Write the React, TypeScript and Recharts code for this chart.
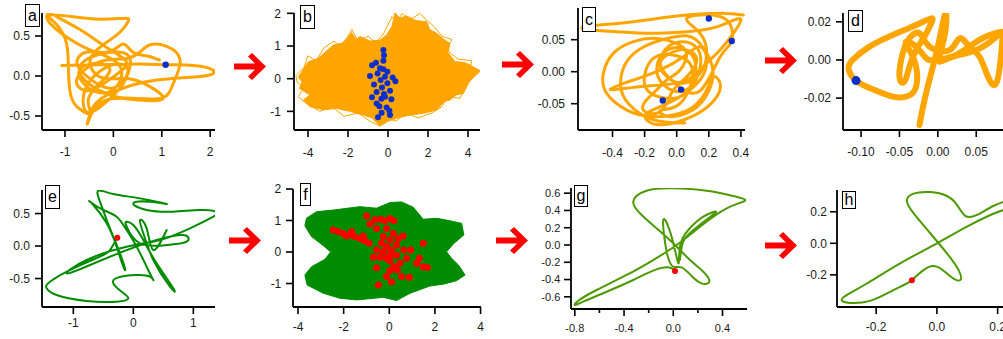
import React from 'react';
import { ScatterChart, Scatter, XAxis, YAxis } from 'recharts';

const ORANGE = '#FFA500';
const BLUE = '#0B2FC8';
const GREEN = '#008C00';
const OLIVE = '#4C9A00';
const RED = '#FF0000';
const FONT = '"Liberation Sans", Arial, sans-serif';

type Pair = [number, number];
const toPts = (a: Pair[]) => a.map(([x, y]) => ({ x, y }));

// ---- panel a: orange trajectory + blue point ----
const trajA: Pair[] = [
  [-1.07, 0.13], [-0.28, 0.14], [0.55, 0.15], [1.08, 0.14], [1.66, 0.13], [2.07, 0.07], [1.97, 0.01],
  [1.52, -0.02], [0.9, -0.05], [0.41, -0.11], [-0.07, -0.22], [-0.41, -0.38], [-0.54, -0.6], [-0.45, -0.47],
  [-0.14, -0.3], [0.48, -0.28], [1.03, -0.27], [1.24, -0.09], [1.38, 0.2], [1.1, 0.37], [0.76, 0.39],
  [0.55, 0.3], [0.28, 0.22], [-0.14, 0.2], [-0.59, 0.08], [-0.76, -0.09], [-0.48, -0.18], [0.0, -0.01],
  [0.28, 0.16], [-0.07, 0.33], [-0.69, 0.58], [-1.17, 0.74], [-1.34, 0.78], [-1.31, 0.66], [-0.76, 0.41],
  [-0.28, 0.28], [0.14, 0.12], [0.07, -0.13], [-0.28, -0.21], [-0.62, -0.09], [-0.69, 0.08], [-0.34, 0.16],
  [-0.07, 0.08], [-0.28, -0.09], [-0.52, -0.3], [-0.48, -0.47], [-0.76, -0.38], [-0.9, -0.18], [-0.93, 0.12],
  [-0.97, 0.41], [-1.17, 0.64], [-1.32, 0.76], [-0.83, 0.74], [-0.28, 0.71], [0.21, 0.72], [0.31, 0.69],
  [0.14, 0.55], [-0.21, 0.39], [-0.48, 0.2], [-0.28, -0.01], [0.21, -0.03], [0.62, -0.09], [1.03, -0.28],
  [0.5, -0.3], [0.0, -0.25], [-0.5, -0.1], [-0.7, 0.1], [-0.4, 0.25], [0.1, 0.3], [0.35, 0.2], [0.2, -0.1],
  [-0.2, -0.35], [-0.55, -0.45], [-0.6, -0.2], [-0.3, 0.05], [0.1, 0.15], [0.3, 0.05], [0.0, -0.15],
  [-0.45, -0.05], [-0.75, 0.15], [-0.55, 0.3], [-0.1, 0.3], [0.2, 0.4], [0.4, 0.3], [0.7, 0.25], [0.95, 0.2],
];
const dotA: Pair[] = [[1.08, 0.14]];

// ---- panel b: dense orange cloud + blue cluster ----
const blobB: Pair[] = [
  [-4.48, 0.06], [-3.98, 0.52], [-3.5, 0.62], [-2.73, 1.03], [-2.2, 1.1], [-1.82, 1.41], [-1.6, 1.2],
  [-1.4, 1.29], [-0.9, 1.15], [-0.4, 1.18], [-0.07, 1.34], [0.2, 1.6], [0.35, 2.02], [0.6, 1.85],
  [0.93, 1.92], [1.4, 1.78], [1.93, 1.74], [2.1, 1.5], [2.43, 1.39], [2.8, 1.2], [3.1, 1.08], [3.0, 0.8],
  [3.35, 0.52], [3.8, 0.5], [4.1, 0.42], [4.6, 0.24], [4.1, -0.04], [3.77, -0.45], [3.4, -0.5],
  [3.1, -0.65], [2.8, -0.7], [2.43, -0.96], [1.77, -1.06], [1.2, -1.1], [0.6, -1.18], [0.0, -1.3],
  [-0.4, -1.45], [-0.8, -1.2], [-1.23, -1.11], [-1.9, -1.0], [-2.57, -0.91], [-3.2, -0.95], [-3.9, -0.86],
  [-4.23, -0.65], [-3.9, -0.5], [-4.43, -0.3], [-4.3, -0.1],
];
const fringeB: Pair[] = [
  [-4.6, 0.1], [-4.2, 0.35], [-4.0, 0.7], [-3.6, 0.55], [-3.2, 0.95], [-2.7, 1.15], [-2.4, 1.0],
  [-2.0, 1.3], [-1.8, 1.5], [-1.5, 1.15], [-1.0, 1.3], [-0.6, 1.1], [-0.2, 1.4], [0.2, 1.9], [0.45, 1.7],
  [0.7, 2.0], [1.1, 1.8], [1.6, 2.0], [1.9, 1.8], [2.3, 1.6], [2.7, 1.3], [3.2, 1.2], [2.9, 0.9], [3.5, 0.6],
  [4.2, 0.55], [4.1, 0.35], [4.65, 0.25], [4.3, 0.05], [3.9, -0.2], [3.6, -0.6], [3.0, -0.55], [2.7, -0.85],
  [2.2, -1.05], [1.5, -1.2], [0.9, -1.05], [0.4, -1.3], [-0.1, -1.2], [-0.4, -1.45], [-0.9, -1.3],
  [-1.5, -1.05], [-2.2, -1.15], [-2.8, -0.85], [-3.4, -1.0], [-4.1, -0.75], [-4.5, -0.55], [-4.2, -0.3],
  [-4.55, -0.1],
];
const dotsB: Pair[] = [
  [-0.23, 0.88], [-0.2, 0.72], [-0.23, 0.55], [-0.6, 0.49], [-0.8, 0.41], [-0.23, 0.29], [-0.03, 0.21],
  [-0.52, 0.16], [-0.9, 0.08], [0.23, 0.04], [0.37, -0.08], [-0.37, -0.04], [-0.7, -0.18], [-0.3, -0.27],
  [-0.03, -0.14], [-0.57, -0.41], [-0.2, -0.47], [0.1, -0.37], [-0.8, -0.57], [-0.33, -0.61], [0.17, -0.63],
  [-0.43, -0.84], [-0.07, -0.88], [0.07, -0.98], [-0.32, -1.04], [0.1, -1.11], [-0.5, -1.18],
  [-0.15, 0.06], [-0.4, 0.32], [-0.15, -0.55], [-0.57, -0.76],
];

// ---- panel c ----
const trajC: Pair[] = [
  [0.415, 0.0885], [0.31, 0.091], [0.145, 0.09], [-0.062, 0.085], [-0.27, 0.078], [-0.478, 0.073],
  [-0.58, 0.07], [-0.56, 0.066], [-0.374, 0.0625], [-0.166, 0.06], [0.062, 0.0625], [0.25, 0.07],
  [0.395, 0.083], [0.353, 0.06], [0.27, 0.034], [0.166, 0.0078], [0.062, -0.013], [-0.104, -0.021],
  [-0.27, -0.0245], [-0.415, -0.0276], [-0.27, -0.013], [-0.104, 0.0026], [0.0415, 0.0234], [0.145, 0.039],
  [0.187, 0.018], [0.145, -0.013], [0.021, -0.039], [-0.104, -0.0547], [-0.187, -0.065], [-0.187, -0.0755],
  [-0.104, -0.083], [0.0415, -0.0755], [0.166, -0.06], [0.25, -0.039], [0.27, -0.018], [0.228, -0.0078],
  [0.187, -0.0286], [0.104, -0.0547], [-0.021, -0.0677], [-0.166, -0.07], [-0.31, -0.06], [-0.436, -0.034],
  [-0.457, -0.0026], [-0.395, 0.0286], [-0.27, 0.047], [-0.125, 0.052], [0.0, 0.044], [0.062, 0.0286],
  [0.021, 0.0026], [-0.062, -0.013], [-0.125, -0.0286], [-0.187, -0.044], [-0.208, -0.06], [-0.125, -0.065],
  [-0.062, -0.0495], [-0.021, -0.0286], [0.062, -0.0078], [0.125, 0.018], [0.062, 0.034], [-0.0415, 0.0286],
  [-0.104, 0.013], [-0.062, -0.0078], [0.0415, -0.018], [0.145, -0.0026], [0.187, 0.0286], [0.145, 0.06],
  [0.062, 0.081], [0.145, 0.0885], [0.31, 0.081], [0.343, 0.048], [0.27, 0.023], [0.145, -0.03],
  [0.0, -0.02], [-0.1, 0.01], [-0.05, 0.04], [0.08, 0.045], [0.15, 0.02], [0.1, -0.02], [-0.02, -0.03],
  [-0.12, -0.005], [-0.08, 0.03], [0.05, 0.035], [0.12, 0.005], [0.05, -0.035], [-0.1, -0.04], [-0.2, -0.02],
  [-0.15, 0.02], [0.0, 0.025], [0.1, 0.0], [0.02, -0.05], [-0.1, -0.06], [-0.05, -0.07], [0.1, -0.06],
  [0.2, -0.03], [0.22, 0.01], [0.12, 0.05], [0.0, 0.055], [-0.15, 0.045], [-0.3, 0.02], [-0.35, -0.02],
  [-0.3, -0.05], [-0.15, -0.075], [0.05, -0.08],
];
const dotsC: Pair[] = [[0.2, 0.083], [0.343, 0.048], [0.027, -0.028], [-0.087, -0.045]];

// ---- panel d ----
const trajD: Pair[] = [
  [-0.0239, -0.0341], [-0.0174, -0.021], [-0.0087, -0.007], [0.0, 0.007], [0.0074, 0.021], [0.0109, 0.0241],
  [0.01, 0.0157], [0.0043, 0.0052], [0.0022, -0.0009], [0.0196, 0.0017], [0.05, 0.0052], [0.0761, 0.0122],
  [0.0839, 0.014], [0.0826, 0.0035], [0.0761, -0.0122], [0.0652, -0.0087], [0.0543, 0.0017], [0.0413, 0.007],
  [0.0283, 0.0114], [0.0152, 0.0052], [-0.0109, 0.007], [-0.0239, 0.014], [-0.037, 0.0114], [-0.0457, 0.0035],
  [-0.05, -0.0087], [-0.0435, -0.0114], [-0.037, -0.0035], [-0.0283, 0.0052], [-0.0174, 0.0122],
  [-0.0087, 0.0192], [-0.0087, 0.0218], [-0.0283, 0.0183], [-0.0587, 0.0131], [-0.0891, 0.007],
  [-0.1109, 0.0], [-0.1161, -0.0049], [-0.1065, -0.0108], [-0.0848, -0.0154], [-0.0587, -0.0192],
  [-0.0391, -0.0189], [-0.0283, -0.014], [-0.0283, -0.0035], [-0.037, 0.0052], [-0.0413, 0.0096],
  [-0.0283, 0.007], [-0.0152, 0.0009], [-0.0022, 0.0], [0.0239, 0.0026], [0.0543, 0.0105], [0.0848, 0.0148],
  [0.0978, 0.0122],
];
const dotD: Pair[] = [[-0.1065, -0.0108]];

// ---- panel e ----
const trajE: Pair[] = [
  [-0.267, 0.128], [-0.389, -0.062], [-0.556, -0.164], [-1.0, -0.344], [-1.389, -0.549], [-1.444, -0.651],
  [-1.278, -0.754], [-0.778, -0.846], [-0.278, -0.856], [-0.083, -0.805], [-0.194, -0.703], [-0.333, -0.574],
  [-0.25, -0.482], [0.056, -0.446], [0.278, -0.472], [0.333, -0.523], [0.222, -0.318], [0.056, -0.01],
  [-0.111, 0.246], [-0.278, 0.451], [-0.5, 0.554], [-0.722, 0.682], [-0.667, 0.631], [-0.444, 0.349],
  [-0.278, -0.01], [-0.167, -0.318], [-0.139, -0.344], [-0.222, -0.113], [-0.333, 0.144], [-0.444, 0.4],
  [-0.556, 0.682], [-0.583, 0.851], [-0.333, 0.8], [0.111, 0.733], [0.556, 0.646], [0.278, 0.682],
  [0.0, 0.656], [0.222, 0.554], [0.667, 0.528], [1.111, 0.554], [1.389, 0.528], [1.333, 0.451],
  [0.944, 0.272], [0.444, 0.092], [-0.111, -0.01], [-0.778, -0.215], [-1.111, -0.421], [-0.722, -0.292],
  [-0.111, -0.062], [0.389, 0.092], [0.833, 0.169], [0.889, 0.067], [0.556, 0.015], [0.111, 0.041],
  [-0.111, 0.297], [-0.111, 0.374], [0.0, 0.323], [0.167, 0.092], [0.389, -0.267], [0.667, -0.651],
  [0.611, -0.626], [0.333, -0.215], [0.167, 0.195], [0.111, 0.4], [0.222, 0.272], [0.333, -0.062],
  [0.556, 0.246],
];
const dotE: Pair[] = [[-0.267, 0.128]];

// ---- panel f ----
const blobF: Pair[] = [
  [-3.63, 1.07], [-3.19, 1.28], [-2.46, 1.33], [-1.29, 1.44], [-0.56, 1.39], [0.03, 1.57], [0.54, 1.59],
  [1.05, 1.42], [1.49, 1.04], [2.08, 1.07], [2.66, 0.99], [3.17, 0.91], [3.27, 0.54], [2.84, 0.28],
  [2.51, 0.01], [2.73, -0.2], [3.03, -0.41], [3.32, -0.73], [2.95, -0.91], [2.37, -1.02], [1.78, -1.08],
  [0.91, -1.31], [0.32, -1.54], [-0.26, -1.44], [-1.43, -1.52], [-2.16, -1.47], [-2.89, -1.31],
  [-3.6, -1.05], [-3.7, -0.73], [-3.41, -0.47], [-2.82, -0.23], [-2.57, 0.0], [-2.87, 0.19], [-3.41, 0.49],
  [-3.7, 0.83],
];
const dotsF: Pair[] = [
  [-2.46, 0.7], [-2.24, 0.65], [-2.02, 0.59], [-1.73, 0.54], [-1.51, 0.49], [-1.29, 0.43], [-1.07, 0.36],
  [-1.14, 0.51], [-0.88, 0.28], [-1.65, 0.65], [-1.87, 0.51], [-0.99, 1.14], [-0.85, 0.89], [-0.63, 1.02],
  [-0.38, 1.04], [-0.19, 0.99], [0.03, 1.06], [0.2, 0.99], [-0.56, 0.75], [-0.12, 0.75], [0.18, 0.59],
  [-0.26, 0.49], [0.03, 0.38], [0.39, 0.43], [0.61, 0.51], [0.32, 0.22], [-0.12, 0.17], [-0.26, 0.01],
  [-0.41, -0.17], [0.03, -0.1], [0.32, -0.1], [0.64, 0.06], [0.94, 0.06], [0.76, -0.2], [0.47, -0.36],
  [0.2, -0.47], [0.03, -0.59], [0.35, -0.57], [0.54, -0.78], [-0.12, -0.78], [0.1, -0.95], [-0.56, -0.5],
  [0.88, -0.8], [1.2, -0.36], [1.49, -0.47], [1.32, -0.2], [1.67, -0.49], [-0.7, -0.17], [0.03, -0.28],
  [1.49, 0.28], [-0.48, -1.05], [-0.34, 0.28], [0.1, 0.06], [-0.12, -0.2], [-0.56, 0.06],
];

// ---- panel g ----
const trajG: Pair[] = [
  [0.014, -0.301], [-0.041, -0.259], [-0.163, -0.297], [-0.325, -0.405], [-0.542, -0.541], [-0.732, -0.656],
  [-0.8, -0.695], [-0.772, -0.645], [-0.623, -0.521], [-0.379, -0.347], [-0.163, -0.174], [0.027, 0.0],
  [0.217, 0.212], [0.434, 0.425], [0.583, 0.514], [0.488, 0.568], [0.271, 0.629], [0.0, 0.656],
  [-0.217, 0.629], [-0.325, 0.502], [-0.257, 0.347], [-0.136, 0.193], [0.014, 0.0], [0.136, -0.174],
  [0.244, -0.309], [0.293, -0.425], [0.23, -0.444], [0.149, -0.359], [0.068, -0.259], [0.0, -0.251],
  [-0.054, -0.077], [-0.081, 0.29], [-0.014, 0.097], [0.041, -0.212], [0.054, -0.019], [0.122, 0.174],
  [0.244, 0.328], [0.347, 0.386], [0.285, 0.309], [0.163, 0.174], [0.081, 0.039], [0.054, -0.174],
];
const dotG: Pair[] = [[0.014, -0.3]];

// ---- panel h ----
const trajH: Pair[] = [
  [-0.0825, -0.2335], [-0.044, -0.17], [-0.013, -0.144], [0.0165, -0.166], [0.0495, -0.2166], [0.077, -0.2335],
  [0.0715, -0.17], [0.033, -0.0637], [-0.022, 0.0637], [-0.077, 0.191], [-0.099, 0.27], [-0.077, 0.315],
  [-0.022, 0.325], [0.033, 0.3], [0.066, 0.244], [0.0935, 0.174], [0.132, 0.18], [0.187, 0.238],
  [0.242, 0.276], [0.297, 0.3], [0.341, 0.31], [0.352, 0.287], [0.308, 0.244], [0.22, 0.212],
  [0.099, 0.106], [0.0, 0.0], [-0.121, -0.127], [-0.231, -0.255], [-0.297, -0.329], [-0.3135, -0.361],
  [-0.286, -0.378], [-0.22, -0.365], [-0.154, -0.308], [-0.099, -0.255], [-0.0825, -0.2335],
];
const dotH: Pair[] = [[-0.0825, -0.234]];

// tick labels
const fmt0 = (v: number) => String(v);
const fmt1 = (v: number) => v.toFixed(1);
const fmt2 = (v: number) => v.toFixed(2);

const YW = 60;
const XH = 40;
const MT = 10;
const MR = 20;

function XTick(props: any) {
  const { x, y, payload, fmt, major, gap, fontSize } = props;
  const isMajor = !major || major.some((m: number) => Math.abs(m - payload.value) < 1e-9);
  return (
    <g>
      <line x1={x} y1={y} x2={x} y2={y + (isMajor ? 7 : 4)} stroke="#000" strokeWidth={1.6} />
      {isMajor && (
        <text x={x} y={y + gap} dy="0.71em" textAnchor="middle" fontSize={fontSize} fontFamily={FONT} fill="#1a1a1a">
          {fmt(payload.value)}
        </text>
      )}
    </g>
  );
}

function YTick(props: any) {
  const { x, y, payload, fmt, gap, fontSize } = props;
  return (
    <g>
      <line x1={x - 7} y1={y} x2={x} y2={y} stroke="#000" strokeWidth={1.6} />
      <text x={x - gap} y={y} dy="0.355em" textAnchor="end" fontSize={fontSize} fontFamily={FONT} fill="#1a1a1a">
        {fmt(payload.value)}
      </text>
    </g>
  );
}

interface PanelProps {
  left: number;
  top: number;
  w: number;
  h: number;
  xDomain: [number, number];
  yDomain: [number, number];
  xTicks: number[];
  yTicks: number[];
  xMinor?: number[];
  fmtX: (v: number) => string;
  fmtY: (v: number) => string;
  xGap: number;
  yGap: number;
  fontSize?: number;
  children: React.ReactNode;
}

function Panel(p: PanelProps) {
  const fs = p.fontSize ?? 12;
  const allX = p.xMinor ? [...p.xTicks, ...p.xMinor].sort((a, b) => a - b) : p.xTicks;
  return (
    <div style={{ position: 'absolute', left: p.left - YW, top: p.top - MT }}>
      <ScatterChart
        width={YW + p.w + MR}
        height={MT + p.h + XH}
        margin={{ top: MT, right: MR, bottom: 0, left: 0 }}
      >
        <XAxis
          type="number"
          dataKey="x"
          domain={p.xDomain}
          allowDataOverflow
          ticks={allX}
          interval={0}
          height={XH}
          tickSize={0}
          tickMargin={0}
          tickLine={false}
          axisLine={{ stroke: '#000', strokeWidth: 1.8 }}
          tick={(t: any) => <XTick {...t} fmt={p.fmtX} major={p.xMinor ? p.xTicks : null} gap={p.xGap} fontSize={fs} />}
        />
        <YAxis
          type="number"
          dataKey="y"
          domain={p.yDomain}
          allowDataOverflow
          ticks={p.yTicks}
          interval={0}
          width={YW}
          tickSize={0}
          tickMargin={0}
          tickLine={false}
          axisLine={{ stroke: '#000', strokeWidth: 1.8 }}
          tick={(t: any) => <YTick {...t} fmt={p.fmtY} gap={p.yGap} fontSize={fs} />}
        />
        {p.children}
      </ScatterChart>
    </div>
  );
}

const noShape = () => <g />;

function path(data: Pair[], color: string, width: number, key: string) {
  return (
    <Scatter
      key={key}
      data={toPts(data)}
      isAnimationActive={false}
      shape={noShape}
      line={{ stroke: color, strokeWidth: width, strokeLinejoin: 'round', strokeLinecap: 'round' }}
      lineType="joint"
      lineJointType="natural"
    />
  );
}

function cloud(data: Pair[], color: string, key: string) {
  return (
    <Scatter
      key={key}
      data={toPts(data)}
      isAnimationActive={false}
      shape={noShape}
      line={{ stroke: color, strokeWidth: 1, fill: color, strokeLinejoin: 'miter' }}
      lineType="joint"
      lineJointType="linearClosed"
    />
  );
}

function fringe(data: Pair[], color: string, key: string) {
  return (
    <Scatter
      key={key}
      data={toPts(data)}
      isAnimationActive={false}
      shape={noShape}
      line={{ stroke: color, strokeWidth: 1 }}
      lineType="joint"
      lineJointType="linearClosed"
    />
  );
}

function dots(data: Pair[], color: string, r: number, key: string) {
  return (
    <Scatter
      key={key}
      data={toPts(data)}
      isAnimationActive={false}
      shape={(s: any) => <circle cx={s.cx} cy={s.cy} r={r} fill={color} />}
    />
  );
}

function Arrow({ x, y }: { x: number; y: number }) {
  return (
    <svg style={{ position: 'absolute', left: x, top: y - 13.5 }} width={33} height={28}>
      <polygon points="0,10.5 21,10.5 14,3.5 18,0 32,13.5 18,27 14,23.5 21,16.5 0,16.5" fill={RED} />
    </svg>
  );
}

function Tag({ x, y, w, h, t }: { x: number; y: number; w: number; h: number; t: string }) {
  return (
    <div
      style={{
        position: 'absolute', left: x, top: y, width: w, height: h, boxSizing: 'border-box',
        border: '1px solid #000', background: '#fff', fontFamily: FONT, fontSize: 16,
        lineHeight: `${h - 2}px`, textAlign: 'center', color: '#000',
      }}
    >
      {t}
    </div>
  );
}

export default function App() {
  return (
    <div style={{ position: 'absolute', left: 0, top: 0, width: 1003, height: 339, overflow: 'hidden', background: '#fff' }}>
      <Panel left={42} top={13} w={173} h={117} xDomain={[-1.475, 2.1]} yDomain={[-0.675, 0.7875]}
        xTicks={[-1, 0, 1, 2]} yTicks={[-0.5, 0, 0.5]} fmtX={fmt0} fmtY={fmt1} xGap={17} yGap={12}>
        {path(trajA, ORANGE, 3, 'a')}
        {dots(dotA, BLUE, 3.2, 'ad')}
      </Panel>
      <Panel left={294} top={13} w={186} h={117} xDomain={[-4.7, 4.6]} yDomain={[-1.57, 2.01]}
        xTicks={[-4, -2, 0, 2, 4]} yTicks={[-1, 0, 1, 2]} fmtX={fmt0} fmtY={fmt0} xGap={18} yGap={13}>
        {cloud(blobB, ORANGE, 'b')}
        {fringe(fringeB, ORANGE, 'bf')}
        {dots(dotsB, BLUE, 3, 'bd')}
      </Panel>
      <Panel left={578} top={8} w={167} h={122} xDomain={[-0.615, 0.4255]} yDomain={[-0.0911, 0.0995]}
        xTicks={[-0.4, -0.2, 0, 0.2, 0.4]} yTicks={[-0.05, 0, 0.05]} fmtX={fmt1} fmtY={fmt2} xGap={18} yGap={13}>
        {path(trajC, ORANGE, 3, 'c')}
        {dots(dotsC, BLUE, 3.2, 'cd')}
      </Panel>
      <Panel left={843} top={13} w={187} h={117} xDomain={[-0.1235, 0.12]} yDomain={[-0.0367, 0.0246]}
        xTicks={[-0.1, -0.05, 0, 0.05]} yTicks={[-0.02, 0, 0.02]} fmtX={fmt2} fmtY={fmt2} xGap={17.5} yGap={12}>
        {path(trajD, ORANGE, 6, 'd')}
        {dots(dotD, BLUE, 4.5, 'dd')}
      </Panel>
      <Panel left={42} top={190} w={173} h={117} xDomain={[-1.522, 1.361]} yDomain={[-0.938, 0.862]}
        xTicks={[-1, 0, 1]} yTicks={[-0.5, 0, 0.5]} fmtX={fmt0} fmtY={fmt1} xGap={11.5} yGap={12}>
        {path(trajE, GREEN, 2, 'e')}
        {dots(dotE, RED, 3, 'ed')}
      </Panel>
      <Panel left={293} top={189} w={188} h={118} xDomain={[-4.22, 4.02]} yDomain={[-1.746, 2.0]}
        xTicks={[-4, -2, 0, 2, 4]} yTicks={[-1, 0, 1, 2]} fmtX={fmt0} fmtY={fmt0} xGap={15.5} yGap={11.7}>
        {cloud(blobF, GREEN, 'f')}
        {dots(dotsF, RED, 3.5, 'fd')}
      </Panel>
      <Panel left={571} top={188} w={176} h={121} xDomain={[-0.831, 0.599]} yDomain={[-0.741, 0.66]}
        xTicks={[-0.8, -0.4, 0, 0.4]} xMinor={[-0.6, -0.2, 0.2]} yTicks={[-0.6, -0.4, -0.2, 0, 0.2, 0.4, 0.6]}
        fmtX={fmt1} fmtY={fmt1} xGap={15} yGap={10.7} fontSize={11}>
        {path(trajG, OLIVE, 2, 'g')}
        {dots(dotG, RED, 3, 'gd')}
      </Panel>
      <Panel left={837} top={190} w={191} h={117} xDomain={[-0.329, 0.3]} yDomain={[-0.404, 0.338]}
        xTicks={[-0.2, 0, 0.2]} yTicks={[-0.2, 0, 0.2]} fmtX={fmt1} fmtY={fmt1} xGap={15} yGap={10}>
        {path(trajH, OLIVE, 2, 'h')}
        {dots(dotH, RED, 3, 'hd')}
      </Panel>

      <Arrow x={234} y={66.5} />
      <Arrow x={502} y={64} />
      <Arrow x={765} y={60.5} />
      <Arrow x={229} y={240.5} />
      <Arrow x={496} y={240.5} />
      <Arrow x={765} y={245.5} />

      <Tag x={25} y={4} w={15} h={23} t="a" />
      <Tag x={300} y={5} w={15} h={24} t="b" />
      <Tag x={582} y={7} w={14} h={25} t="c" />
      <Tag x={848} y={10} w={15} h={22} t="d" />
      <Tag x={45} y={185} w={15} h={24} t="e" />
      <Tag x={300} y={183} w={11} h={23} t="f" />
      <Tag x={574} y={185} w={14} h={22} t="g" />
      <Tag x={842} y={191} w={14} h={18} t="h" />
    </div>
  );
}
